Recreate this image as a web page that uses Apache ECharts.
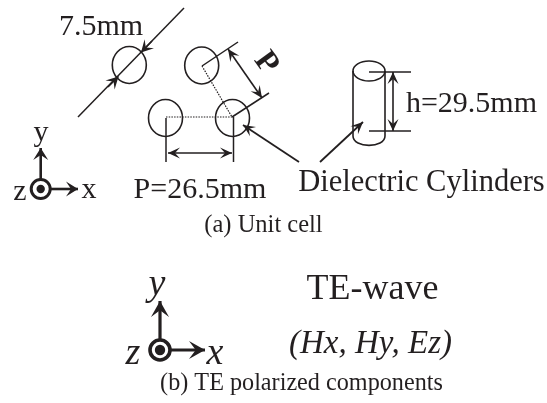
<!DOCTYPE html>
<html>
<head>
<meta charset="utf-8">
<style>html,body{margin:0;padding:0;background:#fff}#c{width:547px;height:403px}</style>
<script src="https://cdn.jsdelivr.net/npm/echarts@6/dist/echarts.min.js"></script>
</head>
<body>
<div id="c"></div>
<script>
// Diagram content, in the picture's own units
var ellipses = [ // cx, cy, rx, ry, width
  [129.3, 65, 17, 18.5, 1.6], [201.7, 65.5, 17, 18.5, 1.6],
  [165.5, 118, 17, 18.5, 1.6], [232.5, 118, 17, 18.5, 1.6],
  [369, 71, 16, 10, 1.6],
  [40.7, 189, 9.5, 9.5, 3], [160, 350, 10, 10, 3.6]
];
var dots = [[40.7, 189, 4.2], [160, 350, 5.2]];
var solidLines = [
  [78, 117, 184, 8, 1.5], [202, 66, 238, 42, 1.5], [232, 117, 269, 93, 1.5],
  [166, 118, 166, 162, 1.5], [233.5, 117, 233.5, 162, 1.5],
  [353, 71, 353, 136, 1.6], [385, 71, 385, 136, 1.6],
  [369, 72, 411, 72, 1.5], [369, 131, 411, 131, 1.5]
];
var dottedLines = [[166, 117, 232, 117], [202, 66, 232, 117]];
var curves = [[353, 136, 353, 148.5, 385, 148.5, 385, 136]];
var arrows = [ // x1, y1, x2, y2 (head at end), head length, head half-width, width
  [152, 41, 141, 52.5, 12, 6.5, 1.5], [108, 87, 118.5, 76.5, 12, 6.5, 1.5],
  [168, 153, 232, 153, 0, 0, 1.6],
  [228, 49, 262, 98, 0, 0, 1.6], [393, 72, 393, 131, 0, 0, 1.6],
  [299, 162, 243, 125, 12, 5.5, 1.8], [320, 162, 363, 122, 12, 5.5, 1.8],
  [40.7, 179, 40.7, 148, 12, 7.5, 2.6], [51, 189, 78, 189, 12, 7.5, 2.6],
  [160, 339, 160, 301, 16, 9, 3.2], [171, 350, 205, 350, 16, 9, 3.2]
];
var doubleArrows = [[168, 153, 232, 153], [228, 49, 262, 98], [393, 72, 393, 131]];
var labels = ['7.5mm', 'P', 'y', 'z', 'x', 'P=26.5mm', 'h=29.5mm', 'Dielectric Cylinders', '(a) Unit cell',
  'y', 'z', 'x', 'TE-wave', '(Hx, Hy, Ez)', '(b) TE polarized components'];
var labelX = [101, 266, 41, 20, 89, 200, 471.5, 421.5, 263.5, 157, 133, 215, 372.5, 370.5, 301.5];
var labelY = [27, 63, 133, 192, 190, 190, 104, 183, 226, 285, 354, 354, 290, 344, 384];
var labelSize = [30, 32, 30, 30, 30, 30, 30, 30.5, 24.5, 38, 38, 38, 36, 33, 24.2];
var labelStyle = ['normal','bold','normal','normal','normal','normal','normal','normal','normal',
  'italic','italic','italic','normal','italic','normal'];
var labelTurn = [0, -54, 0, 0, 0, 0, 0, 0, 0, 0, 0, 0, 0, 0, 0];

var ink = '#231f20';
function seg(api, i) {
  return api.coord([api.value(i), api.value(i + 1)]);
}
function head(a, b, len, hw) {
  var dx = b[0] - a[0], dy = b[1] - a[1], d = Math.sqrt(dx * dx + dy * dy) || 1;
  var ux = dx / d, uy = dy / d, nx = -uy, ny = ux;
  var bx = b[0] - ux * len, by = b[1] - uy * len;
  var nb = b[0] - ux * len * 0.58, nby = b[1] - uy * len * 0.58;
  return [b, [bx + nx * hw, by + ny * hw], [nb, nby], [bx - nx * hw, by - ny * hw]];
}
var idx = labels.map(function (_, i) { return [labelX[i], labelY[i], i]; });
var option = {
  animation: false,
  backgroundColor: '#fff',
  grid: { left: 0, right: 0, top: 0, bottom: 0 },
  xAxis: { type: 'value', min: 0, max: 547, show: false },
  yAxis: { type: 'value', min: 0, max: 403, inverse: true, show: false },
  series: [
    { type: 'custom', silent: true, clip: false, data: ellipses,
      renderItem: function (p, api) {
        var c = seg(api, 0);
        return { type: 'ellipse', shape: { cx: c[0], cy: c[1], rx: api.value(2), ry: api.value(3) },
          style: { fill: 'none', stroke: ink, lineWidth: api.value(4) } };
      } },
    { type: 'custom', silent: true, clip: false, data: dots,
      renderItem: function (p, api) {
        var c = seg(api, 0);
        return { type: 'circle', shape: { cx: c[0], cy: c[1], r: api.value(2) }, style: { fill: ink } };
      } },
    { type: 'custom', silent: true, clip: false, data: solidLines,
      renderItem: function (p, api) {
        var a = seg(api, 0), b = seg(api, 2);
        return { type: 'line', shape: { x1: a[0], y1: a[1], x2: b[0], y2: b[1] },
          style: { stroke: ink, lineWidth: api.value(4) } };
      } },
    { type: 'custom', silent: true, clip: false, data: dottedLines,
      renderItem: function (p, api) {
        var a = seg(api, 0), b = seg(api, 2);
        return { type: 'line', shape: { x1: a[0], y1: a[1], x2: b[0], y2: b[1] },
          style: { stroke: ink, lineWidth: 1.2, lineDash: [1.5, 1.2] } };
      } },
    { type: 'custom', silent: true, clip: false, data: curves,
      renderItem: function (p, api) {
        var a = seg(api, 0), c1 = seg(api, 2), c2 = seg(api, 4), b = seg(api, 6);
        return { type: 'bezierCurve',
          shape: { x1: a[0], y1: a[1], cpx1: c1[0], cpy1: c1[1], cpx2: c2[0], cpy2: c2[1], x2: b[0], y2: b[1] },
          style: { fill: 'none', stroke: ink, lineWidth: 1.6 } };
      } },
    { type: 'custom', silent: true, clip: false, data: arrows,
      renderItem: function (p, api) {
        var a = seg(api, 0), b = seg(api, 2), len = api.value(4), hw = api.value(5);
        var kids = [{ type: 'line', shape: { x1: a[0], y1: a[1], x2: b[0], y2: b[1] },
          style: { stroke: ink, lineWidth: api.value(6) } }];
        if (len > 0) kids.push({ type: 'polygon', shape: { points: head(a, b, len, hw) }, style: { fill: ink } });
        return { type: 'group', children: kids };
      } },
    { type: 'custom', silent: true, clip: false, data: doubleArrows,
      renderItem: function (p, api) {
        var a = seg(api, 0), b = seg(api, 2);
        return { type: 'group', children: [
          { type: 'polygon', shape: { points: head(a, b, 12, 5.5) }, style: { fill: ink } },
          { type: 'polygon', shape: { points: head(b, a, 12, 5.5) }, style: { fill: ink } }
        ] };
      } },
    { type: 'custom', silent: true, clip: false, data: idx,
      renderItem: function (p, api) {
        var i = api.value(2), c = seg(api, 0);
        return { type: 'text', x: c[0], y: c[1], rotation: labelTurn[i] * Math.PI / 180,
          style: { text: labels[i], fill: ink, align: 'center', verticalAlign: 'middle',
            font: labelStyle[i] + ' ' + labelSize[i] + 'px "Liberation Serif"' } };
      } }
  ]
};
var chart = echarts.init(document.getElementById('c'), null, { renderer: 'canvas' });
chart.setOption(option);
</script>
</body>
</html>
